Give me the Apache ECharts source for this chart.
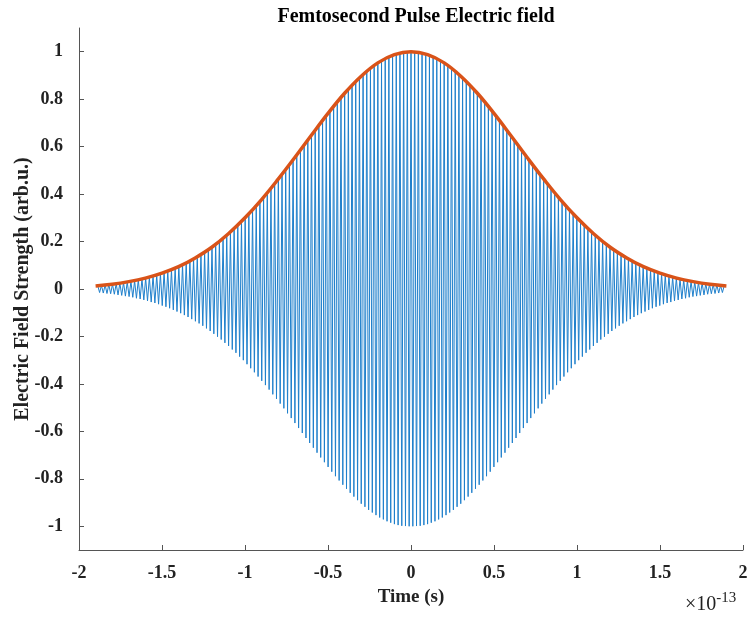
<!DOCTYPE html>
<html>
<head>
<meta charset="utf-8">
<script src="https://cdn.jsdelivr.net/npm/echarts@6/dist/echarts.min.js"></script>
<style>html,body{margin:0;padding:0;background:#fff}#c{width:747px;height:617px}</style>
</head>
<body>
<div id="c"></div>
<script>
// Peak amplitudes of the carrier oscillation, one per optical cycle
var peakAmp = [
0.014,0.015,0.017,0.019,0.020,0.022,
0.025,0.027,0.030,0.032,0.035,0.039,0.042,0.046,0.050,0.055,
0.059,0.064,0.070,0.075,0.081,0.088,0.095,0.102,0.110,0.118,
0.127,0.136,0.145,0.155,0.166,0.177,0.189,0.201,0.213,0.227,
0.240,0.255,0.269,0.285,0.300,0.317,0.334,0.351,0.369,0.387,
0.405,0.424,0.444,0.463,0.483,0.503,0.524,0.544,0.565,0.586,
0.607,0.628,0.649,0.669,0.690,0.710,0.730,0.750,0.770,0.789,
0.807,0.825,0.842,0.859,0.875,0.890,0.905,0.918,0.931,0.942,
0.953,0.963,0.971,0.979,0.985,0.991,0.995,0.998,0.999,
1.000,
0.999,0.998,0.995,0.991,0.985,0.979,0.971,0.963,0.953,
0.942,0.931,0.918,0.905,0.890,0.875,0.859,0.842,0.825,0.807,
0.789,0.770,0.750,0.730,0.710,0.690,0.669,0.649,0.628,0.607,
0.586,0.565,0.544,0.524,0.503,0.483,0.463,0.444,0.424,0.405,
0.387,0.369,0.351,0.334,0.317,0.300,0.285,0.269,0.255,0.240,
0.227,0.213,0.201,0.189,0.177,0.166,0.155,0.145,0.136,0.127,
0.118,0.110,0.102,0.095,0.088,0.081,0.075,0.070,0.064,0.059,
0.055,0.050,0.046,0.042,0.039,0.035,0.032,0.030,0.027,0.025,
0.022,0.020,0.019,0.017,0.015,0.014
];
var carrierPeriod = 0.0222;   // in units of 1e-13 s
var firstPeakTime = -1.887;   // in units of 1e-13 s

// Envelope (orange) sampled every 0.1 x 1e-13 s
var envTime = [-1.9,-1.8,-1.7,-1.6,-1.5,-1.4,-1.3,-1.2,-1.1,-1.0,-0.9,-0.8,-0.7,-0.6,-0.5,-0.4,-0.3,-0.2,-0.1,0,
               0.1,0.2,0.3,0.4,0.5,0.6,0.7,0.8,0.9,1.0,1.1,1.2,1.3,1.4,1.5,1.6,1.7,1.8,1.9];
var envValue = [0.013,0.020,0.031,0.046,0.067,0.094,0.131,0.176,0.233,0.300,0.377,0.463,0.554,0.648,0.740,0.825,0.897,0.953,0.988,1.000,
                0.988,0.953,0.897,0.825,0.740,0.648,0.554,0.463,0.377,0.300,0.233,0.176,0.131,0.094,0.067,0.046,0.031,0.020,0.013];

var xTicks = [-2,-1.5,-1,-0.5,0,0.5,1,1.5,2];
var yTicks = [-1,-0.8,-0.6,-0.4,-0.2,0,0.2,0.4,0.6,0.8,1];

var center = (peakAmp.length - 1) / 2;
var fieldData = [];
for (var k = 0; k < peakAmp.length; k++) {
  var t = firstPeakTime + k * carrierPeriod;
  fieldData.push([t, peakAmp[k]]);
  if (k < peakAmp.length - 1) {
    var trough = (k < center) ? peakAmp[k + 1] : peakAmp[k];
    fieldData.push([t + carrierPeriod / 2, -trough]);
  }
}
var envData = envTime.map(function (t, i) { return [t, envValue[i]]; });

var FONT = 'Liberation Serif';
var chart = echarts.init(document.getElementById('c'), null, {renderer: 'canvas'});
chart.setOption({
  animation: false,
  backgroundColor: '#ffffff',
  title: {
    text: 'Femtosecond Pulse Electric field',
    left: 411, top: 2, textAlign: 'center',
    textStyle: {fontFamily: FONT, fontWeight: 'bold', fontSize: 20, color: '#000'}
  },
  grid: {left: 79, right: 4, top: 28, bottom: 67, containLabel: false, outerBoundsMode: 'none'},
  xAxis: {
    type: 'value', min: -2, max: 2, interval: 0.5,
    name: 'Time (s)', nameLocation: 'middle', nameGap: 38, nameMoveOverlap: false,
    nameTextStyle: {fontFamily: FONT, fontWeight: 'bold', fontSize: 19, color: '#222'},
    axisLine: {show: true, onZero: false, lineStyle: {color: '#555', width: 1}},
    axisTick: {show: true, inside: true, length: 5, lineStyle: {color: '#555'}},
    axisLabel: {
      customValues: xTicks, margin: 14,
      fontFamily: FONT, fontWeight: 'bold', fontSize: 18, color: '#222',
      formatter: function (v) { return String(v); }
    },
    splitLine: {show: false}
  },
  yAxis: {
    type: 'value', min: -1.1, max: 1.1,
    name: 'Electric Field Strength (arb.u.)', nameLocation: 'middle', nameGap: 46, nameMoveOverlap: false,
    nameTextStyle: {fontFamily: FONT, fontWeight: 'bold', fontSize: 20, color: '#222'},
    axisLine: {show: true, onZero: false, lineStyle: {color: '#555', width: 1}},
    axisTick: {show: true, inside: true, length: 5, customValues: yTicks, lineStyle: {color: '#555'}},
    axisLabel: {
      customValues: yTicks, margin: 16,
      fontFamily: FONT, fontWeight: 'bold', fontSize: 18, color: '#222',
      formatter: function (v) { return String(Math.round(v * 10) / 10); }
    },
    splitLine: {show: false}
  },
  graphic: [{
    type: 'text', left: 685, top: 591,
    style: {
      text: '×10{sup|-13}',
      rich: {sup: {fontFamily: FONT, fontSize: 15, verticalAlign: 'top', padding: [0, 0, 12, 0], fill: '#222'}},
      font: '20px ' + FONT, fill: '#222'
    }
  }],
  series: [{
    type: 'line', data: fieldData, showSymbol: false, symbol: 'none',
    lineStyle: {color: '#1f80cc', width: 1}, z: 2, silent: true
  }, {
    type: 'line', data: envData, showSymbol: false, symbol: 'none', smooth: 0.4,
    lineStyle: {color: '#D95319', width: 3.5}, z: 3, silent: true
  }]
});
</script>
</body>
</html>
